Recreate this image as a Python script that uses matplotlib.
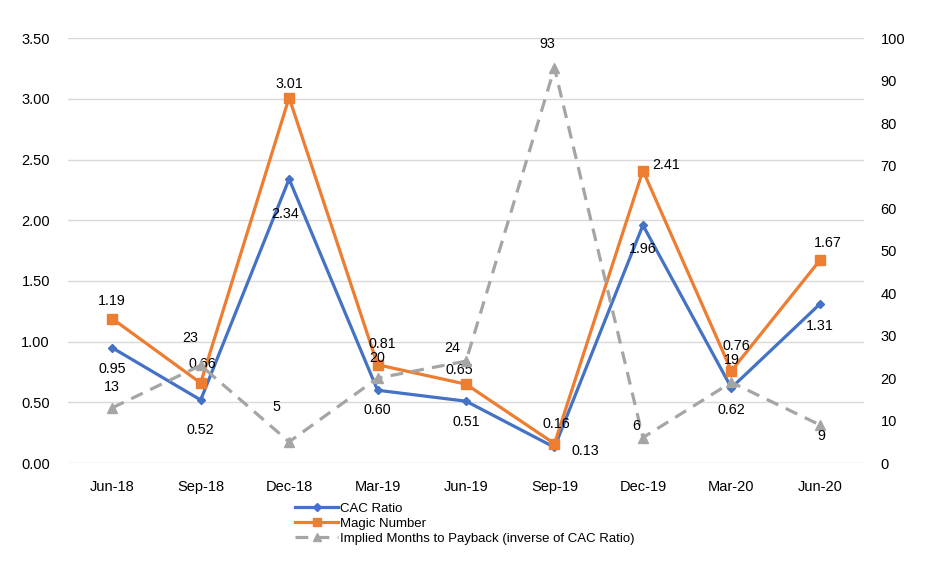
import matplotlib.pyplot as plt

plt.rcParams['font.family'] = ['Liberation Sans', 'DejaVu Sans']

# datos
trimestres = ['Jun-18', 'Sep-18', 'Dec-18', 'Mar-19', 'Jun-19', 'Sep-19', 'Dec-19', 'Mar-20', 'Jun-20']
cac_ratio = [0.95, 0.52, 2.34, 0.60, 0.51, 0.13, 1.96, 0.62, 1.31]
magic_number = [1.19, 0.66, 3.01, 0.81, 0.65, 0.16, 2.41, 0.76, 1.67]
meses_payback = [13, 23, 5, 20, 24, 93, 6, 19, 9]

# desplazamientos de las etiquetas (pixeles, x derecha / y abajo)
desp_cac = [(0, 21), (0, 30), (-4, 35), (0, 20), (0, 21), (31, 4), (0, 24), (0, 22), (0, 22)]
desp_magic = [(0, -18), (2, -19), (0, -14), (5, -21), (-7, -14), (2, -20), (23, -6), (5, -25), (8, -17)]
desp_payback = [(0, -21), (-10, -27), (-13, -35), (0, -20), (-14, -13), (-7, -24), (-7, -12), (0, -22), (1, 11)]

azul = '#4472C4'
naranja = '#ED7D31'
gris = '#A5A5A5'

fig = plt.figure(figsize=(9.3, 5.62), dpi=100)
ax = fig.add_axes([0.0731, 0.176, 0.856, 0.756])
ax2 = ax.twinx()

x = list(range(len(trimestres)))

l1, = ax.plot(x, cac_ratio, color=azul, lw=2.3, marker='D', ms=4.5, label='CAC Ratio')
l2, = ax.plot(x, magic_number, color=naranja, lw=2.3, marker='s', ms=6.5, label='Magic Number')
l3, = ax2.plot(x, meses_payback, color=gris, lw=2.3, dashes=(4, 2.6), marker='^', ms=6.5,
               label='Implied Months to Payback (inverse of CAC Ratio)')

ax.set_xlim(-0.5, len(trimestres) - 0.5)
ax.set_ylim(0, 3.5)
ax.set_yticks([i * 0.5 for i in range(8)])
ax.set_yticklabels(['%.2f' % (i * 0.5) for i in range(8)])
ax2.set_ylim(0, 100)
ax2.set_yticks(range(0, 101, 10))
ax.set_xticks(x)
ax.set_xticklabels(trimestres)

ax.grid(axis='y', color='#D9D9D9', lw=1)
ax.set_axisbelow(True)
for a in (ax, ax2):
    for s in a.spines.values():
        s.set_visible(False)
    a.tick_params(length=0, labelsize=10.5, colors='black')
ax.tick_params(axis='y', pad=13)
ax2.tick_params(axis='y', pad=12)
ax.tick_params(axis='x', pad=12)

# etiquetas de datos
for i in x:
    dx, dy = desp_cac[i]
    ax.annotate('%.2f' % cac_ratio[i], (i, cac_ratio[i]), xytext=(dx, -dy), textcoords='offset pixels',
                ha='center', va='center', fontsize=10.3)
    dx, dy = desp_magic[i]
    ax.annotate('%.2f' % magic_number[i], (i, magic_number[i]), xytext=(dx, -dy), textcoords='offset pixels',
                ha='center', va='center', fontsize=10.3)
    dx, dy = desp_payback[i]
    ax2.annotate('%d' % meses_payback[i], (i, meses_payback[i]), xytext=(dx, -dy), textcoords='offset pixels',
                 ha='center', va='center', fontsize=10.3)

fig.legend(handles=[l1, l2, l3], loc='upper left', bbox_to_anchor=(0.312, 0.115), frameon=False,
           fontsize=9.5, handlelength=3.2, handletextpad=0.2, labelspacing=0.2, borderaxespad=0,
           markerscale=0.8)

fig.savefig('out.png', dpi=100)
